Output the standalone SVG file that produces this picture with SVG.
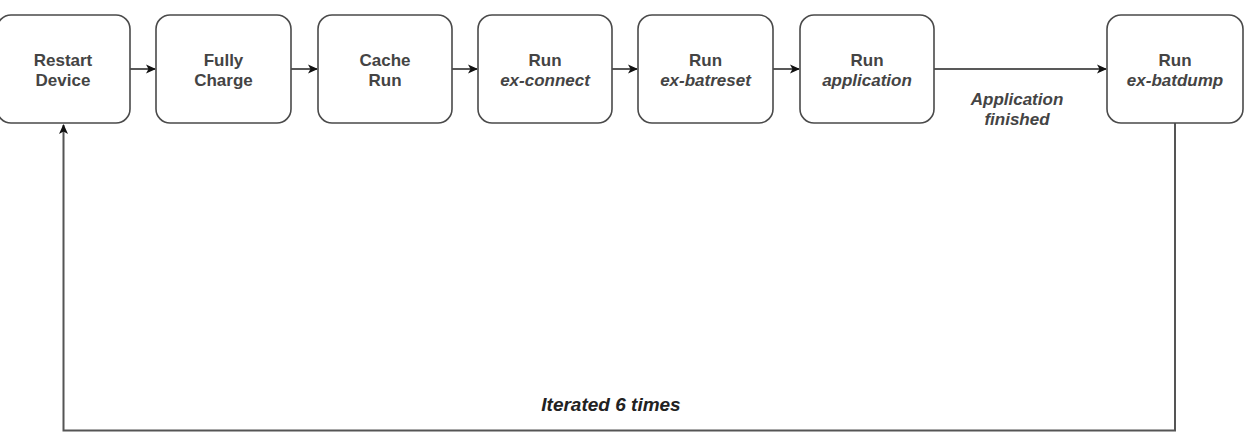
<svg xmlns="http://www.w3.org/2000/svg" width="1246" height="433" viewBox="0 0 1246 433">
<defs>
<marker id="arr" viewBox="0 0 10 10" refX="9" refY="5" markerWidth="10" markerHeight="10" markerUnits="userSpaceOnUse" orient="auto">
<path d="M0,0.5 L10,5 L0,9.5 L2.5,5 Z" fill="#111"/>
</marker>
<style>
.box{fill:#fff;stroke:#4a4a4a;stroke-width:1.6}
.t{font-family:"Liberation Sans",Arial,sans-serif;font-weight:bold;font-size:17px;fill:#444;text-anchor:middle}
.i{font-style:italic}
.c{fill:none;stroke:#222;stroke-width:1.5}
.loop{fill:none;stroke:#555;stroke-width:2}
</style>
</defs>
<rect width="1246" height="433" fill="#fff"/>
<g id="connectors">
<line class="c" x1="130" y1="69" x2="155" y2="69" marker-end="url(#arr)"/>
<line class="c" x1="291" y1="69" x2="317" y2="69" marker-end="url(#arr)"/>
<line class="c" x1="452" y1="69" x2="477" y2="69" marker-end="url(#arr)"/>
<line class="c" x1="612" y1="69" x2="637" y2="69" marker-end="url(#arr)"/>
<line class="c" x1="773" y1="69" x2="799" y2="69" marker-end="url(#arr)"/>
<line class="c" x1="934" y1="69" x2="1106" y2="69" marker-end="url(#arr)"/>
<text class="t i" x="1017" y="105">Application</text>
<text class="t i" x="1017" y="125">finished</text>
<polyline class="loop" points="1175,123 1175,430.5 63.5,430.5 63.5,125" marker-end="url(#arr)"/>
<text class="t i" x="611" y="411" style="font-size:19px;fill:#222">Iterated 6 times</text>
</g>
<g id="restart"><rect class="box" x="-3" y="15" width="133" height="108" rx="14"/><text class="t" x="63" y="66">Restart</text><text class="t" x="63" y="86">Device</text></g>
<g id="charge"><rect class="box" x="156" y="15" width="135" height="108" rx="14"/><text class="t" x="223.5" y="66">Fully</text><text class="t" x="223.5" y="86">Charge</text></g>
<g id="cache"><rect class="box" x="318" y="15" width="134" height="108" rx="14"/><text class="t" x="385" y="66">Cache</text><text class="t" x="385" y="86">Run</text></g>
<g id="connect"><rect class="box" x="478" y="15" width="134" height="108" rx="14"/><text class="t" x="545" y="66">Run</text><text class="t i" x="545" y="86">ex-connect</text></g>
<g id="batreset"><rect class="box" x="638" y="15" width="135" height="108" rx="14"/><text class="t" x="705.5" y="66">Run</text><text class="t i" x="705.5" y="86">ex-batreset</text></g>
<g id="application"><rect class="box" x="800" y="15" width="134" height="108" rx="14"/><text class="t" x="867" y="66">Run</text><text class="t i" x="867" y="86">application</text></g>
<g id="batdump"><rect class="box" x="1107" y="15" width="136" height="108" rx="14"/><text class="t" x="1175" y="66">Run</text><text class="t i" x="1175" y="86">ex-batdump</text></g>
</svg>
